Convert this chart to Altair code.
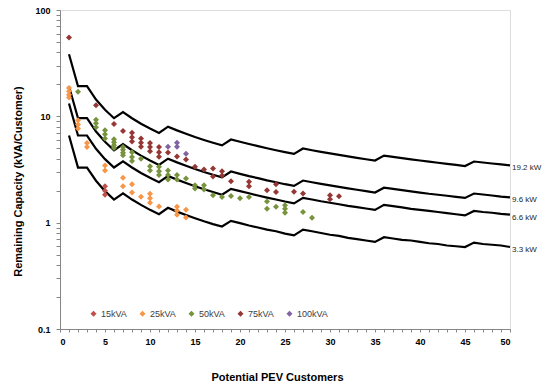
import altair as alt
import pandas as pd

# ---------------- data ----------------
customers = list(range(1, 51))

line_19_2 = [38.4, 19.2, 19.2, 14.4, 11.52, 9.6, 10.97, 9.6, 8.53, 7.68,
             6.98, 8.0, 7.38, 6.86, 6.4, 6.0, 5.65, 5.33, 6.06, 5.76,
             5.49, 5.24, 5.01, 4.8, 4.61, 4.43, 4.98, 4.8, 4.63, 4.48,
             4.34, 4.2, 4.07, 3.95, 3.84, 4.27, 4.15, 4.04, 3.94, 3.84,
             3.75, 3.66, 3.57, 3.49, 3.41, 3.76, 3.68, 3.6, 3.53, 3.46]
line_9_6 = [19.2, 9.6, 9.6, 7.2, 5.76, 4.8, 5.49, 4.8, 4.27, 3.84,
            3.49, 4.0, 3.69, 3.43, 3.2, 3.0, 2.82, 2.67, 3.03, 2.88,
            2.74, 2.62, 2.5, 2.4, 2.3, 2.22, 2.49, 2.4, 2.32, 2.24,
            2.17, 2.1, 2.04, 1.98, 1.92, 2.13, 2.08, 2.02, 1.97, 1.92,
            1.87, 1.83, 1.79, 1.75, 1.71, 1.88, 1.84, 1.8, 1.76, 1.73]
line_6_6 = [13.2, 6.6, 6.6, 4.95, 3.96, 3.3, 3.77, 3.3, 2.93, 2.64,
            2.4, 2.75, 2.54, 2.36, 2.2, 2.06, 1.94, 1.83, 2.08, 1.98,
            1.89, 1.8, 1.72, 1.65, 1.58, 1.52, 1.71, 1.65, 1.59, 1.54,
            1.49, 1.44, 1.4, 1.36, 1.32, 1.47, 1.43, 1.39, 1.35, 1.32,
            1.29, 1.26, 1.23, 1.2, 1.17, 1.29, 1.26, 1.24, 1.21, 1.19]
line_3_3 = [6.6, 3.3, 3.3, 2.48, 1.98, 1.65, 1.89, 1.65, 1.47, 1.32,
            1.2, 1.38, 1.27, 1.18, 1.1, 1.03, 0.97, 0.92, 1.04, 0.99,
            0.94, 0.9, 0.86, 0.83, 0.79, 0.76, 0.86, 0.83, 0.8, 0.77,
            0.75, 0.72, 0.7, 0.68, 0.66, 0.73, 0.71, 0.69, 0.68, 0.66,
            0.64, 0.63, 0.61, 0.6, 0.59, 0.65, 0.63, 0.62, 0.61, 0.59]
line_names = ["19.2 kW", "9.6 kW", "6.6 kW", "3.3 kW"]
line_values = [line_19_2, line_9_6, line_6_6, line_3_3]

kva15_x = [5, 5, 5]
kva15_y = [2.2, 2.0, 1.83]

kva25_x = [1, 1, 1, 1, 2, 2, 2, 3, 3, 5, 5, 7, 7, 8, 8, 9, 10, 10, 10, 11,
           13, 13, 13, 14, 14]
kva25_y = [18.5, 17.2, 16.0, 15.0, 9.2, 8.4, 7.7, 5.6, 5.15, 3.45, 3.1, 2.65,
           2.2, 2.3, 1.92, 1.75, 1.87, 1.7, 1.54, 1.42, 1.41, 1.3, 1.19, 1.32,
           1.12]

kva50_x = [2, 4, 4, 4, 5, 5, 5, 6, 6, 6, 6, 7, 7, 7, 7, 8, 8, 8, 9, 10, 10,
           11, 11, 11, 12, 12, 12, 13, 13, 14, 15, 15, 16, 16, 17, 18, 19, 20,
           21, 23, 23, 24, 25, 25, 25, 27, 28]
kva50_y = [17.0, 9.3, 8.6, 7.9, 7.4, 6.8, 6.2, 6.1, 5.7, 5.35, 5.05, 5.15,
           4.85, 4.55, 4.3, 4.6, 4.15, 3.8, 4.0, 3.4, 3.1, 3.35, 3.05, 2.8,
           3.1, 2.8, 2.55, 2.8, 2.55, 2.6, 2.25, 2.1, 2.25, 2.05, 1.81, 1.74,
           1.78, 1.7, 1.74, 1.58, 1.35, 1.41, 1.46, 1.35, 1.24, 1.26, 1.11]

kva75_x = [1, 4, 6, 7, 8, 8, 8, 9, 9, 9, 10, 10, 10, 11, 11, 11, 12, 13, 14,
           15, 16, 17, 17, 18, 18, 19, 21, 21, 23, 24, 24, 26, 27, 30, 30, 31]
kva75_y = [55.0, 12.7, 8.45, 7.26, 7.0, 6.35, 5.8, 6.2, 5.65, 5.17, 5.6, 5.15,
           4.7, 5.15, 4.6, 4.16, 4.57, 4.2, 3.93, 3.35, 3.16, 3.23, 2.72, 3.05,
           2.78, 2.45, 2.42, 2.2, 2.02, 2.3, 1.94, 1.95, 1.88, 1.81, 1.66, 1.77]

kva100_x = [12, 13, 13, 14]
kva100_y = [5.17, 5.63, 5.17, 4.45]

size_names = ["15kVA", "25kVA", "50kVA", "75kVA", "100kVA"]
size_colors = ["#C0504D", "#F79646", "#77933C", "#953735", "#8064A2"]
size_x = [kva15_x, kva25_x, kva50_x, kva75_x, kva100_x]
size_y = [kva15_y, kva25_y, kva50_y, kva75_y, kva100_y]

y_tick_values = [0.1, 0.2, 0.3, 0.4, 0.5, 0.6, 0.7, 0.8, 0.9,
                 1, 2, 3, 4, 5, 6, 7, 8, 9,
                 10, 20, 30, 40, 50, 60, 70, 80, 90, 100]
x_tick_values = list(range(0, 51))

# ---------------- tables ----------------
lines_df = pd.DataFrame(
    [{"series": n, "x": c, "y": v}
     for n, vals in zip(line_names, line_values)
     for c, v in zip(customers, vals)]
)
labels_df = pd.DataFrame(
    [{"series": n, "x": customers[-1], "y": vals[-1]}
     for n, vals in zip(line_names, line_values)]
)
points_df = pd.DataFrame(
    [{"size": n, "x": xx, "y": yy}
     for n, xs, ys in zip(size_names, size_x, size_y)
     for xx, yy in zip(xs, ys)]
)

FONT = "Liberation Sans"
AXIS_GRAY = "#868686"

x_enc = alt.X(
    "x:Q",
    scale=alt.Scale(domain=[0, 50], nice=False),
    axis=alt.Axis(
        values=x_tick_values,
        labelExpr="datum.value % 5 === 0 ? datum.label : ''",
        tickSize=3, labelPadding=5, labelFont=FONT, labelFontSize=9,
        labelFontWeight="bold", labelColor="#000000", labelOverlap=False,
        domainColor=AXIS_GRAY, tickColor=AXIS_GRAY, grid=False,
        title="Potential PEV Customers", titleFont=FONT, titleFontSize=11,
        titleFontWeight="bold", titleColor="#000000",
        titleX=217, titleY=48, titleAlign="center", titleBaseline="middle",
    ),
)
y_enc = alt.Y(
    "y:Q",
    scale=alt.Scale(type="log", domain=[0.1, 100], nice=False),
    axis=alt.Axis(
        values=y_tick_values,
        labelExpr="indexof([0.1, 1, 10, 100], datum.value) >= 0 ? toString(datum.value) : ''",
        tickSize=4, labelPadding=6, labelFont=FONT, labelFontSize=9,
        labelFontWeight="bold", labelColor="#000000", labelOverlap=False,
        domainColor=AXIS_GRAY, tickColor=AXIS_GRAY, grid=False,
        title="Remaining Capacity (kVA/Customer)", titleFont=FONT,
        titleFontSize=11, titleFontWeight="bold", titleColor="#000000",
        titleX=-42, titleY=171, titleAngle=-90, titleAlign="center",
        titleBaseline="middle",
    ),
)

lines = alt.Chart(lines_df).mark_line(color="#000000", strokeWidth=2.2).encode(
    x=x_enc, y=y_enc, detail="series:N"
)

points = alt.Chart(points_df).mark_point(
    shape="diamond", filled=True, size=36, opacity=1
).encode(
    x=x_enc, y=y_enc,
    color=alt.Color(
        "size:N",
        scale=alt.Scale(domain=size_names, range=size_colors),
        legend=alt.Legend(
            title=None, orient="none", legendX=29, legendY=299,
            direction="horizontal", symbolType="diamond", symbolSize=36,
            symbolStrokeWidth=0, labelFont=FONT, labelFontSize=9,
            labelColor="#404040", labelOffset=3, columnPadding=6,
            gridAlign="all", padding=0,
        ),
    ),
)

texts = alt.Chart(labels_df).mark_text(
    align="left", baseline="middle", dx=2, dy=3, font=FONT,
    fontSize=8, color="#262626"
).encode(x=x_enc, y=y_enc, text="series:N")

chart = alt.layer(lines, points, texts).properties(
    width=450, height=319,
    autosize=alt.AutoSizeParams(type="none"),
    padding={"left": 60, "top": 10, "right": 34, "bottom": 58},
).configure_view(stroke=None).configure(background="#ffffff")

chart.save("out.html", embed_options={"renderer": "svg", "actions": False})
